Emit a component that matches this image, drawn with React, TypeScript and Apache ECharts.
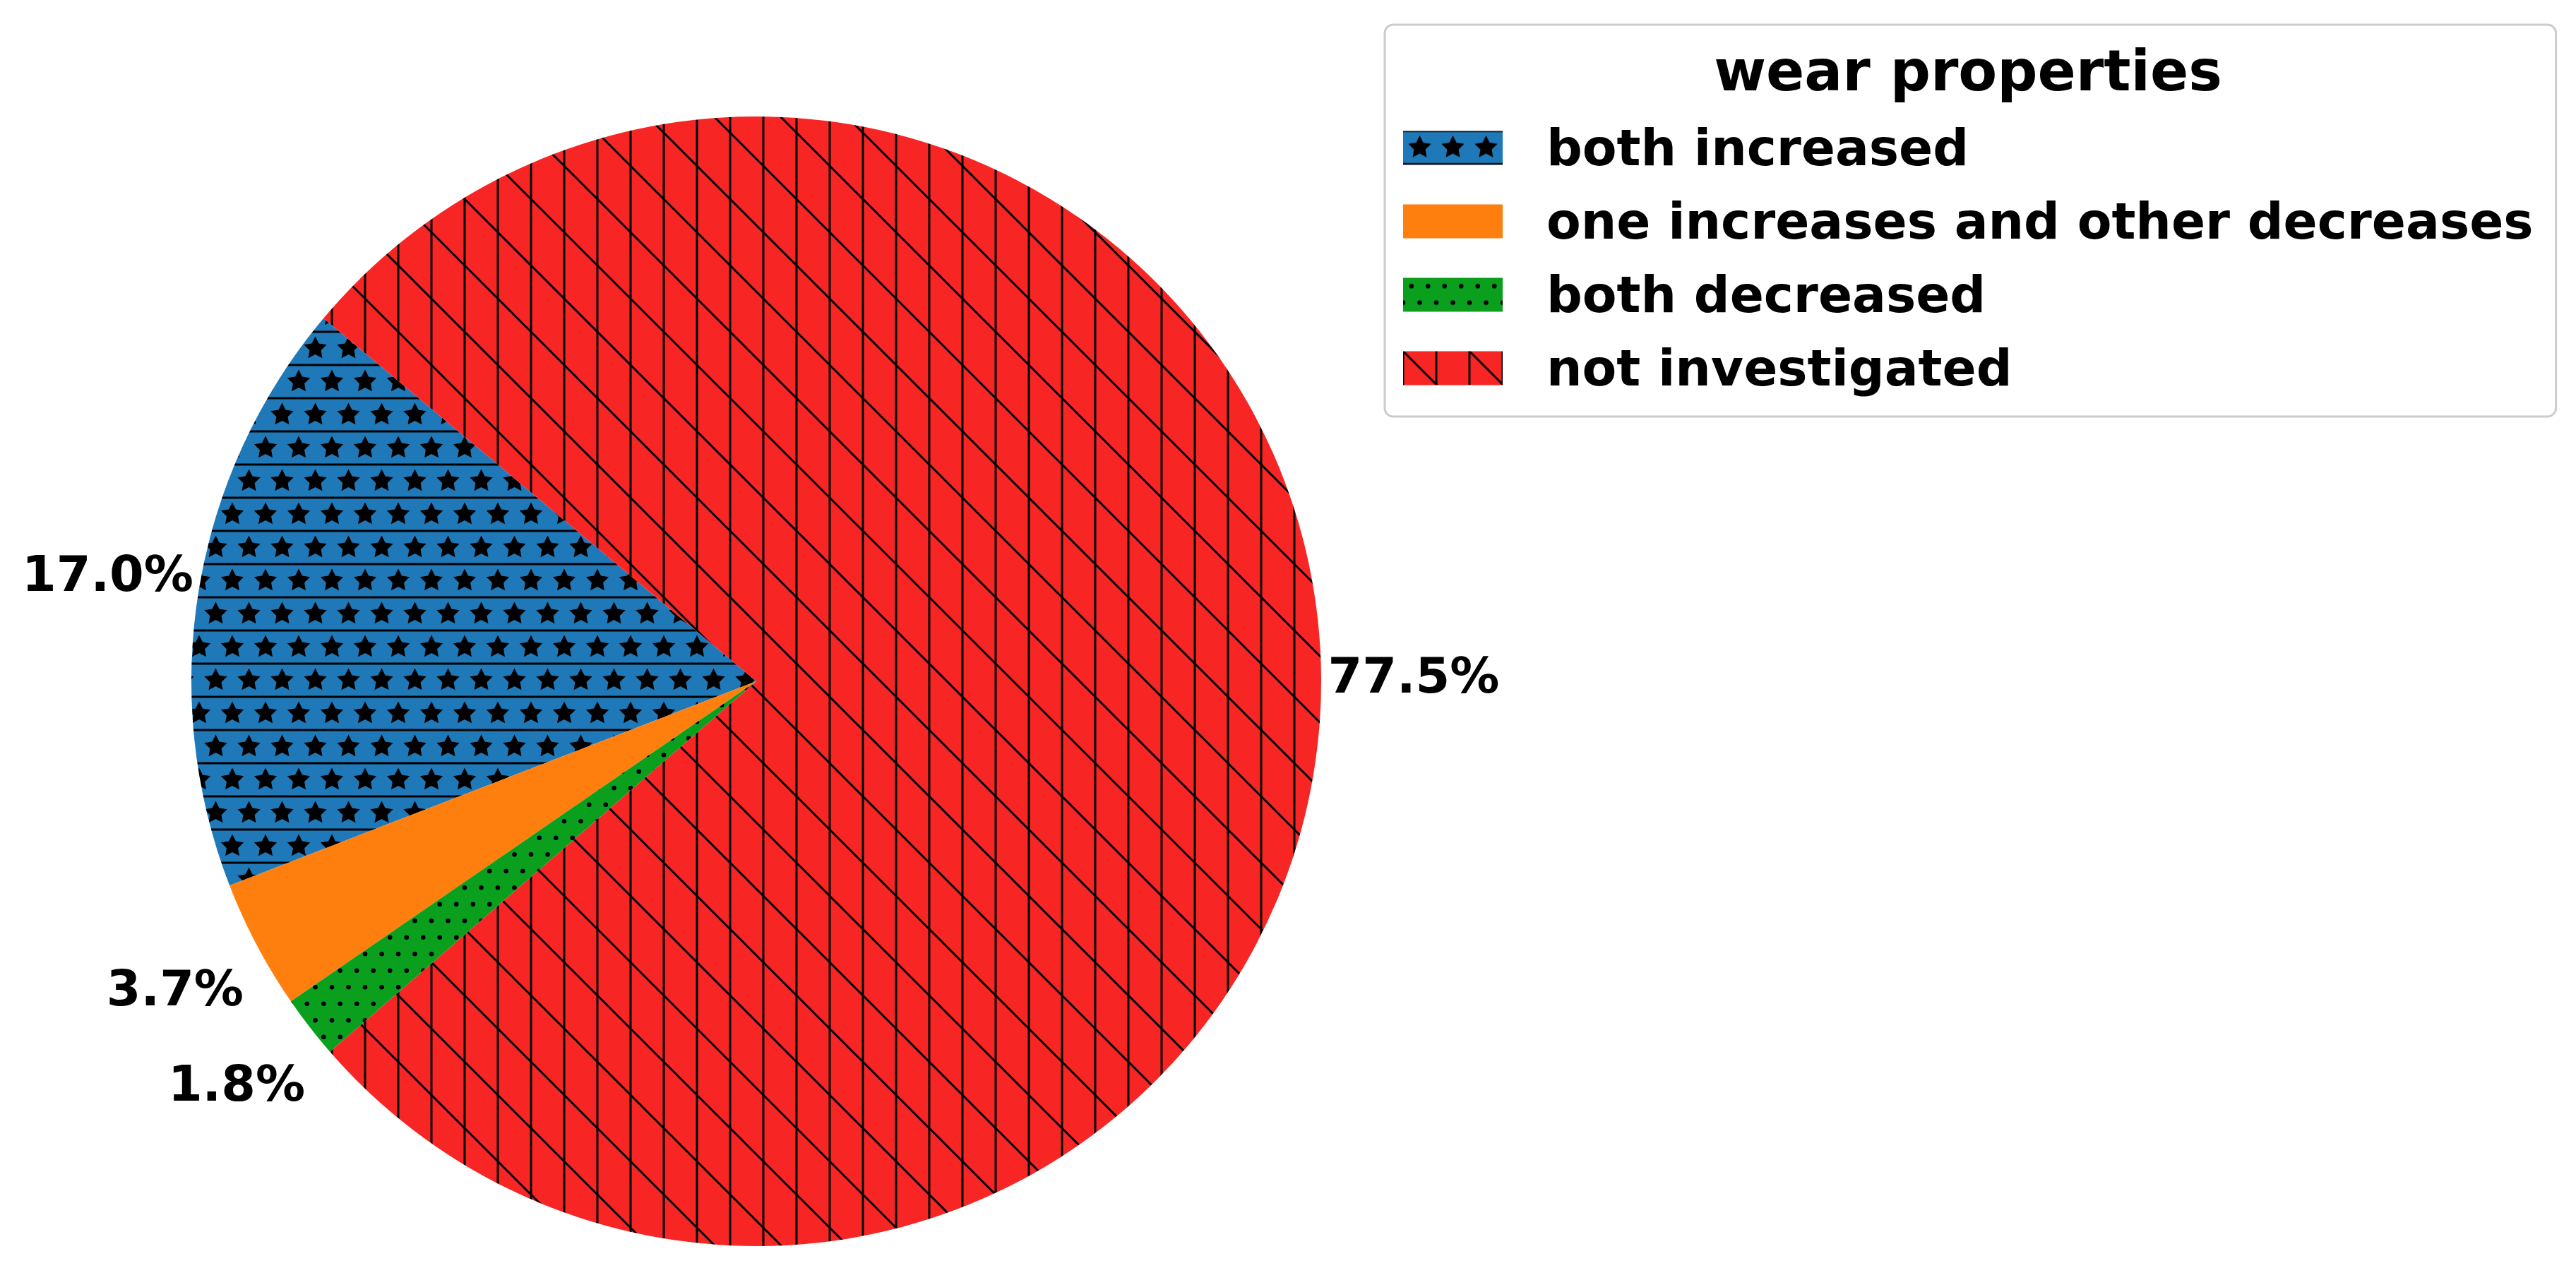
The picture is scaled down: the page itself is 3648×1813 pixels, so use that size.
import React, { useEffect, useRef } from 'react';
import * as echarts from 'echarts';

// ---- data ----
const categories = [
  'both increased',
  'one increases and other decreases',
  'both decreased',
  'not investigated',
];
const shares = [17.0, 3.7, 1.8, 77.5];
const legendTitle = 'wear properties';

// ---- styling ----
const FONT = 'DejaVu Sans';
const BLUE = '#1f78b8';
const ORANGE = '#ff7f0e';
const GREEN = '#0aa01e';
const RED = '#f82525';
const CX = 1071;
const CY = 965;
const R = 800;

function svgUrl(w: number, h: number, body: string): string {
  const s = `<svg xmlns="http://www.w3.org/2000/svg" width="${w}" height="${h}" viewBox="0 0 ${w} ${h}">${body}</svg>`;
  return 'data:image/svg+xml;charset=utf-8,' + encodeURIComponent(s);
}

function starPath(cx: number, cy: number, ro: number, ri: number): string {
  const pts: string[] = [];
  for (let i = 0; i < 10; i++) {
    const a = -Math.PI / 2 + (i * Math.PI) / 5;
    const rad = i % 2 ? ri : ro;
    pts.push(`${(cx + rad * Math.cos(a)).toFixed(2)},${(cy + rad * Math.sin(a)).toFixed(2)}`);
  }
  return 'M' + pts.join('L') + 'Z';
}

function redPattern() {
  const w = 94;
  const body =
    `<rect x="0" y="0" width="${w}" height="${w}" fill="${RED}"/>` +
    `<g stroke="#000" stroke-width="3" fill="none">` +
    `<line x1="0" y1="-5" x2="0" y2="${w + 5}"/>` +
    `<line x1="47" y1="-5" x2="47" y2="${w + 5}"/>` +
    `<line x1="${w}" y1="-5" x2="${w}" y2="${w + 5}"/>` +
    `<line x1="-10" y1="-10" x2="${w + 10}" y2="${w + 10}"/>` +
    `<line x1="${w - 10}" y1="-10" x2="${w + 10}" y2="10"/>` +
    `<line x1="-10" y1="${w - 10}" x2="10" y2="${w + 10}"/>` +
    `</g>`;
  return { image: svgUrl(w, w, body), imageWidth: w, imageHeight: w, repeat: 'repeat', x: 2.7, y: 57.8 };
}

function bluePattern() {
  const w = 47;
  const h = 94;
  const ro = 17;
  const ri = 8.5;
  const body =
    `<rect x="0" y="0" width="${w}" height="${h}" fill="${BLUE}"/>` +
    `<g fill="#000">` +
    `<path d="${starPath(23.5, 23.5, ro, ri)}"/>` +
    `<path d="${starPath(0, 70.5, ro, ri)}"/>` +
    `<path d="${starPath(47, 70.5, ro, ri)}"/>` +
    `</g>` +
    `<g stroke="#000" stroke-width="3">` +
    `<line x1="-5" y1="0" x2="${w + 5}" y2="0"/>` +
    `<line x1="-5" y1="47" x2="${w + 5}" y2="47"/>` +
    `<line x1="-5" y1="${h}" x2="${w + 5}" y2="${h}"/>` +
    `</g>`;
  return { image: svgUrl(w, h, body), imageWidth: w, imageHeight: h, repeat: 'repeat', x: 4.2, y: 59.2 };
}

function greenPattern() {
  const w = 47;
  const r = 3.3;
  const dots = [
    [11.75, 11.75], [35.25, 11.75],
    [0, 35.25], [23.5, 35.25], [47, 35.25],
  ];
  const body =
    `<rect x="0" y="0" width="${w}" height="${w}" fill="${GREEN}"/>` +
    dots.map(([x, y]) => `<circle cx="${x}" cy="${y}" r="${r}" fill="#000"/>`).join('');
  return { image: svgUrl(w, w, body), imageWidth: w, imageHeight: w, repeat: 'repeat', x: 17, y: 30 };
}

export default function App() {
  const ref = useRef<HTMLDivElement>(null);

  useEffect(() => {
    document.body.style.margin = '0';
    if (!ref.current) return;
    const chart = echarts.init(ref.current, undefined, { renderer: 'svg' });

    const fills: any[] = [bluePattern(), ORANGE, greenPattern(), redPattern()];

    const baseData = categories.map((name, i) => ({
      name,
      value: shares[i],
      itemStyle: { color: fills[i] },
    }));
    const labelData = categories.map((name, i) => ({
      name,
      value: shares[i],
    }));

    chart.setOption({
      animation: false,
      backgroundColor: '#ffffff',
      title: {
        text: legendTitle,
        left: 2787,
        top: 60,
        padding: 0,
        textAlign: 'center',
        textStyle: {
          fontFamily: FONT,
          fontSize: 80,
          fontWeight: 'bold',
          color: '#000',
          lineHeight: 80,
        },
      },
      legend: {
        orient: 'vertical',
        left: 1961,
        top: 35,
        padding: [139, 32, 33, 26],
        itemGap: 33,
        itemWidth: 141,
        itemHeight: 48,
        icon: 'rect',
        selectedMode: false,
        backgroundColor: '#ffffff',
        borderColor: '#cccccc',
        borderWidth: 3,
        borderRadius: 12,
        data: categories,
        textStyle: {
          fontFamily: FONT,
          fontSize: 71,
          fontWeight: 'bold',
          color: '#000',
          lineHeight: 48,
          padding: [0, 0, 0, 57],
        },
      },
      series: [
        {
          type: 'pie',
          name: 'slices',
          center: [CX, CY],
          radius: [0, R],
          startAngle: 140,
          clockwise: false,
          silent: true,
          avoidLabelOverlap: false,
          label: { show: false },
          labelLine: { show: false },
          emphasis: { disabled: true },
          itemStyle: { borderWidth: 0 },
          data: baseData,
        },
        {
          type: 'pie',
          name: 'labels',
          center: [CX, CY],
          radius: [R, R * 1.32],
          startAngle: 140,
          clockwise: false,
          silent: true,
          avoidLabelOverlap: false,
          itemStyle: { color: 'rgba(0,0,0,0)', borderWidth: 0 },
          emphasis: { disabled: true },
          labelLine: { show: false },
          label: {
            show: true,
            position: 'inside',
            formatter: (p: any) => Number(p.value).toFixed(1) + '%',
            fontFamily: FONT,
            fontSize: 70,
            fontWeight: 'bold',
            color: '#000',
          },
          data: labelData,
        },
      ],
    });

    return () => chart.dispose();
  }, []);

  return <div ref={ref} style={{ width: 3648, height: 1813 }} />;
}
